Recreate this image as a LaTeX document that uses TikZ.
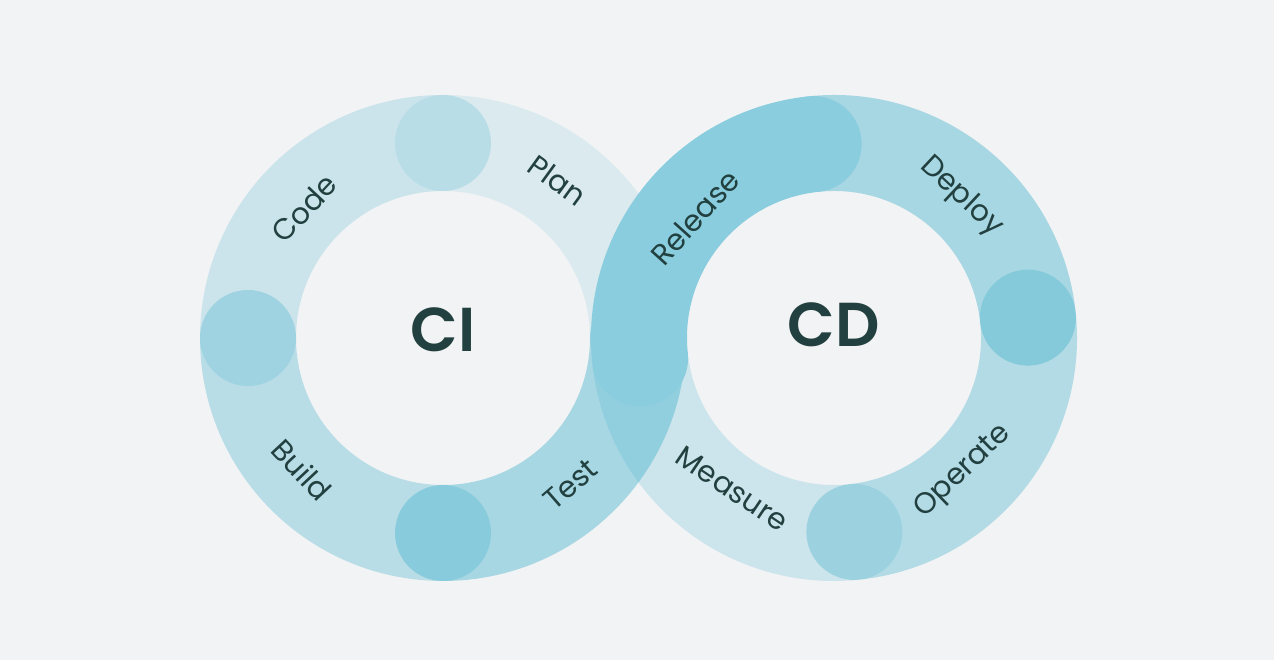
\documentclass[tikz,border=0pt]{standalone}
\usepackage{fontspec}
\setmainfont{Poppins}[BoldFont={Poppins SemiBold}]
\definecolor{bgcol}{HTML}{F2F3F4}
\definecolor{ringcol}{RGB}{79,182,208}
\definecolor{relcol}{HTML}{8ACDDF}
\definecolor{txtcol}{HTML}{22403F}
\begin{document}
\begin{tikzpicture}[x=1pt,y=1pt,
  seg/.style={line width=96pt,line cap=round,draw=ringcol},
  lbl/.style={text=txtcol,inner sep=0pt,font=\fontsize{29.5}{31}\selectfont},
  hub/.style={text=txtcol,inner sep=0pt,font=\bfseries\fontsize{62}{66}\selectfont}]
\useasboundingbox[fill=bgcol] (0,0) rectangle (1274,660);
\coordinate (l) at (443,322);
\coordinate (r) at (834,322);
\draw[seg,draw opacity=.14] ([shift={(90:195pt)}]l) arc[start angle=90,end angle=0,radius=195pt];
\draw[seg,draw opacity=.24] ([shift={(180:195pt)}]l) arc[start angle=180,end angle=90,radius=195pt];
\draw[seg,draw opacity=.35] ([shift={(270:195pt)}]l) arc[start angle=270,end angle=180,radius=195pt];
\draw[seg,draw opacity=.46] ([shift={(360:195pt)}]l) arc[start angle=360,end angle=270,radius=195pt];
\draw[seg,draw opacity=.23] ([shift={(186:195pt)}]r) arc[start angle=186,end angle=276,radius=195pt];
\draw[seg,draw opacity=.38] ([shift={(276:195pt)}]r) arc[start angle=276,end angle=366,radius=195pt];
\draw[seg,draw opacity=.46] ([shift={(6:195pt)}]r) arc[start angle=6,end angle=96,radius=195pt];
\draw[seg,draw=relcol] ([shift={(96:195pt)}]r) arc[start angle=96,end angle=186,radius=195pt];
\node[hub] (ci) at (443,330) {CI};
\node[hub] (cd) at (834,335) {CD};
\node[lbl,rotate=-36] (plan) at ([shift={(54:195pt)}]l) {Plan};
\node[lbl,rotate=47] (code) at ([shift={(137:190pt)}]l) {Code};
\node[lbl,rotate=-47] (build) at ([shift={(223:193pt)}]l) {Build};
\node[lbl,rotate=41] (test) at ([shift={(311:194pt)}]l) {Test};
\node[lbl,rotate=48] (release) at ([shift={(139:184pt)}]r) {Release};
\node[lbl,rotate=-43] (deploy) at ([shift={(48:190pt)}]r) {Deploy};
\node[lbl,rotate=44] (operate) at ([shift={(-46:186pt)}]r) {Operate};
\node[lbl,rotate=-34] (measure) at ([shift={(236:182pt)}]r) {Measure};
\end{tikzpicture}
\end{document}
